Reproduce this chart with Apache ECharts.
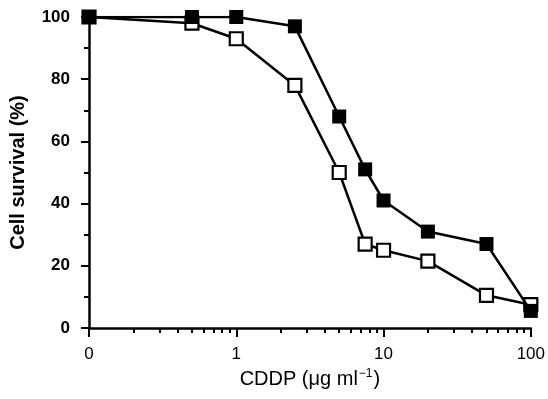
<!DOCTYPE html>
<html>
<head>
<meta charset="utf-8">
<script src="https://cdn.jsdelivr.net/npm/echarts@6/dist/echarts.min.js"></script>
<style>
  html, body { margin: 0; padding: 0; background: #fff; }
  #chart { width: 548px; height: 399px; }
</style>
</head>
<body>
<div id="chart"></div>
<script>
// CDDP doses (µg/ml); dose 0 is drawn at the axis origin, labelled "0"
const doses = [0, 0.5, 1, 2.5, 5, 7.5, 10, 20, 50, 100];
const zeroDosePosition = 0.1;

// Cell survival (%) for the two cell lines
const survivalFilled = [100, 100, 100, 97, 68, 51, 41, 31, 27, 5.5];
const survivalOpen = [100, 98, 93, 78, 50, 27, 25, 21.5, 10.5, 7.5];

// Axis ticks
const yTicks = [0, 20, 40, 60, 80, 100];
const xMajorTicks = [0.1, 1, 10, 100];
const xMinorTicks = [
  0.2, 0.3, 0.4, 0.5, 0.6, 0.7, 0.8, 0.9,
  2, 3, 4, 5, 6, 7, 8, 9,
  20, 30, 40, 50, 60, 70, 80, 90,
];

const FONT = "Liberation Sans, Arial, sans-serif";

const toPoints = (values) =>
  doses.map((d, i) => [d === 0 ? zeroDosePosition : d, values[i]]);

const chart = echarts.init(document.getElementById("chart"));

chart.setOption({
  animation: false,
  backgroundColor: "#ffffff",
  textStyle: { fontFamily: FONT, color: "#000" },
  grid: { left: 87, right: 16, top: 17, bottom: 71, containLabel: false },
  xAxis: [
    {
      type: "log",
      logBase: 10,
      min: 0.1,
      max: 100,
      position: "bottom",
      name: "CDDP (μg ml{sup|−1})",
      nameLocation: "middle",
      nameGap: 40,
      nameTextStyle: {
        fontFamily: FONT,
        fontSize: 20,
        color: "#000",
        rich: {
          sup: { fontFamily: FONT, fontSize: 12, color: "#000", padding: [0, 1, 10, 1] },
        },
      },
      axisLine: { lineStyle: { color: "#000", width: 2.5 } },
      axisTick: {
        customValues: xMajorTicks,
        length: 9,
        lineStyle: { color: "#000", width: 2 },
      },
      axisLabel: {
        customValues: xMajorTicks,
        fontFamily: FONT,
        fontSize: 17,
        color: "#000",
        margin: 18,
        formatter: (v) => (v < 0.5 ? "0" : String(Math.round(v))),
      },
      splitLine: { show: false },
    },
    {
      type: "log",
      logBase: 10,
      min: 0.1,
      max: 100,
      position: "bottom",
      axisLine: { show: false },
      axisTick: {
        customValues: xMinorTicks,
        length: 5,
        lineStyle: { color: "#000", width: 2 },
      },
      axisLabel: { show: false },
      splitLine: { show: false },
    },
  ],
  yAxis: {
    type: "value",
    min: 0,
    max: 100,
    interval: 20,
    name: "Cell survival (%)",
    nameLocation: "middle",
    nameGap: 61,
    nameTextStyle: { fontFamily: FONT, fontSize: 20, fontWeight: "bold", color: "#000" },
    axisLine: { show: true, lineStyle: { color: "#000", width: 2.5 } },
    axisTick: { show: true, length: 8, lineStyle: { color: "#000", width: 2 } },
    minorTick: { show: true, splitNumber: 2, length: 5, lineStyle: { color: "#000", width: 2 } },
    axisLabel: {
      fontFamily: FONT,
      fontSize: 17,
      fontWeight: "bold",
      color: "#000",
      margin: 19,
      customValues: yTicks,
    },
    splitLine: { show: false },
  },
  series: [
    {
      name: "open",
      type: "line",
      xAxisIndex: 0,
      data: toPoints(survivalOpen),
      symbol: "rect",
      symbolSize: 13,
      lineStyle: { color: "#000", width: 2.5 },
      itemStyle: { color: "#fff", borderColor: "#000", borderWidth: 2.2 },
      z: 2,
    },
    {
      name: "filled",
      type: "line",
      xAxisIndex: 0,
      data: toPoints(survivalFilled),
      symbol: "rect",
      symbolSize: 14,
      lineStyle: { color: "#000", width: 2.5 },
      itemStyle: { color: "#000", borderColor: "#000", borderWidth: 0 },
      z: 3,
    },
  ],
});
</script>
</body>
</html>
